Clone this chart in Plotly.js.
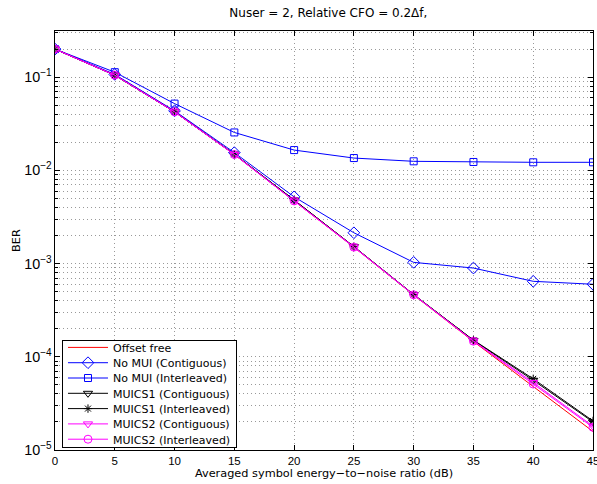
<!DOCTYPE html>
<html>
<head>
<meta charset="utf-8">
<script src="https://cdn.plot.ly/plotly-3.0.1.min.js"></script>
<style>
html,body{margin:0;padding:0;background:#fff;}
#chart{width:597px;height:484px;}
</style>
</head>
<body>
<div id="chart"></div>
<script>
const snr = [0, 5, 10, 15, 20, 25, 30, 35, 40, 45];
const offsetFree      = [0.2, 0.105, 0.0425, 0.0148, 0.0047, 0.00150, 0.000460, 0.000146, 4.8e-5, 1.58e-5];
const noMuiContig     = [0.2, 0.107, 0.0435, 0.0155, 0.0052, 0.00214, 0.00103, 0.000895, 0.000645, 0.00060];
const noMuiInterleav  = [0.2, 0.113, 0.0520, 0.0255, 0.0165, 0.01355, 0.01250, 0.01230, 0.01220, 0.01220];
const muics1Contig    = [0.2, 0.105, 0.0425, 0.0149, 0.0048, 0.00152, 0.000465, 0.000150, 5.6e-5, 2.0e-5];
const muics1Interleav = [0.2, 0.105, 0.0425, 0.0149, 0.0048, 0.00152, 0.000465, 0.000151, 5.8e-5, 2.05e-5];
const muics2Contig    = [0.2, 0.105, 0.0425, 0.0148, 0.0047, 0.00151, 0.000462, 0.000148, 5.3e-5, 1.8e-5];
const muics2Interleav = [0.2, 0.105, 0.0425, 0.0148, 0.0047, 0.00150, 0.000462, 0.000147, 5.1e-5, 1.75e-5];
const names = ['Offset free', 'No MUI (Contiguous)', 'No MUI (Interleaved)', 'MUICS1 (Contiguous)',
               'MUICS1 (Interleaved)', 'MUICS2 (Contiguous)', 'MUICS2 (Interleaved)'];

const blue = '#0000ff', red = '#ff0000', mag = '#ff00ff', blk = '#000000';
function tr(y, name, color, symbol, size) {
  const t = {x: snr, y: y, name: name, type: 'scatter',
    mode: symbol ? 'lines+markers' : 'lines',
    line: {color: color, width: 1}};
  if (symbol) t.marker = {symbol: symbol, size: size, color: color, line: {color: color, width: 1}};
  return t;
}
const data = [
  tr(offsetFree, names[0], red, null),
  tr(noMuiContig, names[1], blue, 'diamond-open', 9),
  tr(noMuiInterleav, names[2], blue, 'square-open', 7),
  tr(muics1Contig, names[3], blk, 'triangle-down-open', 8),
  tr(muics1Interleav, names[4], blk, 'asterisk-open', 7),
  tr(muics2Contig, names[5], mag, 'triangle-down-open', 8),
  tr(muics2Interleav, names[6], mag, 'circle-open', 8)
];
const fam = 'DejaVu Sans, Liberation Sans, sans-serif';
const tickFont = {family: 'Liberation Sans, Arial, sans-serif', size: 11.5, color: '#000'};
const layout = {
  width: 597, height: 484,
  margin: {l: 55, r: 4, t: 31, b: 34},
  paper_bgcolor: '#fff', plot_bgcolor: '#fff',
  font: tickFont,
  showlegend: true,
  title: {text: 'Nuser = 2, Relative CFO = 0.2\u0394f,', font: {family: fam, size: 12, color: '#000'},
          x: 0.55, xanchor: 'center', y: 0.973, yanchor: 'middle'},
  xaxis: {
    range: [0, 45], dtick: 5, tick0: 0,
    showline: true, linecolor: '#000', linewidth: 1, mirror: 'ticks',
    ticks: 'inside', ticklen: 5, tickcolor: '#000',
    showgrid: true, gridcolor: '#999', griddash: '1px,3px', gridwidth: 1,
    zeroline: false, tickfont: tickFont, ticklabeloverflow: 'allow',
    title: {text: 'Averaged symbol energy\u2212to\u2212noise ratio (dB)', font: {family: fam, size: 11.3, color: '#000'}, standoff: 1}
  },
  yaxis: {
    type: 'log', range: [-5, -0.505], dtick: 1, exponentformat: 'power',
    showline: true, linecolor: '#000', linewidth: 1, mirror: 'ticks',
    ticks: 'inside', ticklen: 5, tickcolor: '#000',
    showgrid: true, gridcolor: '#999', griddash: '1px,3px', gridwidth: 1,
    zeroline: false, tickfont: tickFont, ticklabeloverflow: 'allow',
    minor: {dtick: 'D1', showgrid: true, gridcolor: '#999', griddash: '1px,3px', gridwidth: 1,
            ticks: 'inside', ticklen: 3, tickcolor: '#000'},
    title: {text: 'BER', font: {family: fam, size: 11.3, color: '#000'}, standoff: 1}
  },
  legend: {
    x: 0.013, y: 0.005, xanchor: 'left', yanchor: 'bottom',
    bgcolor: '#fff', bordercolor: '#000', borderwidth: 1,
    font: {family: fam, size: 11, color: '#000'}, tracegroupgap: 0, itemwidth: 40
  }
};
const gd = document.getElementById('chart');
Plotly.newPlot(gd, data, layout, {displayModeBar: false, staticPlot: true}).then(function () {
  // tighten legend row spacing to match the reference
  const leg = gd.querySelector('g.legend');
  if (!leg) return;
  const items = leg.querySelectorAll('g.traces');
  const parse = el => {
    const m = /translate\(\s*([-\d.e]+)[ ,]+([-\d.e]+)\s*\)/.exec(el.getAttribute('transform') || '');
    return m ? [parseFloat(m[1]), parseFloat(m[2])] : [0, 0];
  };
  if (items.length < 2) return;
  const p0 = parse(items[0]);
  const step = 15.3, boxH = 107;
  items.forEach((it, i) => {
    const p = parse(it);
    it.setAttribute('transform', 'translate(' + p[0] + ',' + (p0[1] - 8 + i * step) + ')');
  });
  const bg = leg.querySelector('rect.bg');
  const h = parseFloat(bg.getAttribute('height'));
  bg.setAttribute('height', boxH);
  const lp = parse(leg);
  leg.setAttribute('transform', 'translate(' + lp[0] + ',' + (lp[1] + (h - boxH)) + ')');
});
</script>
</body>
</html>
